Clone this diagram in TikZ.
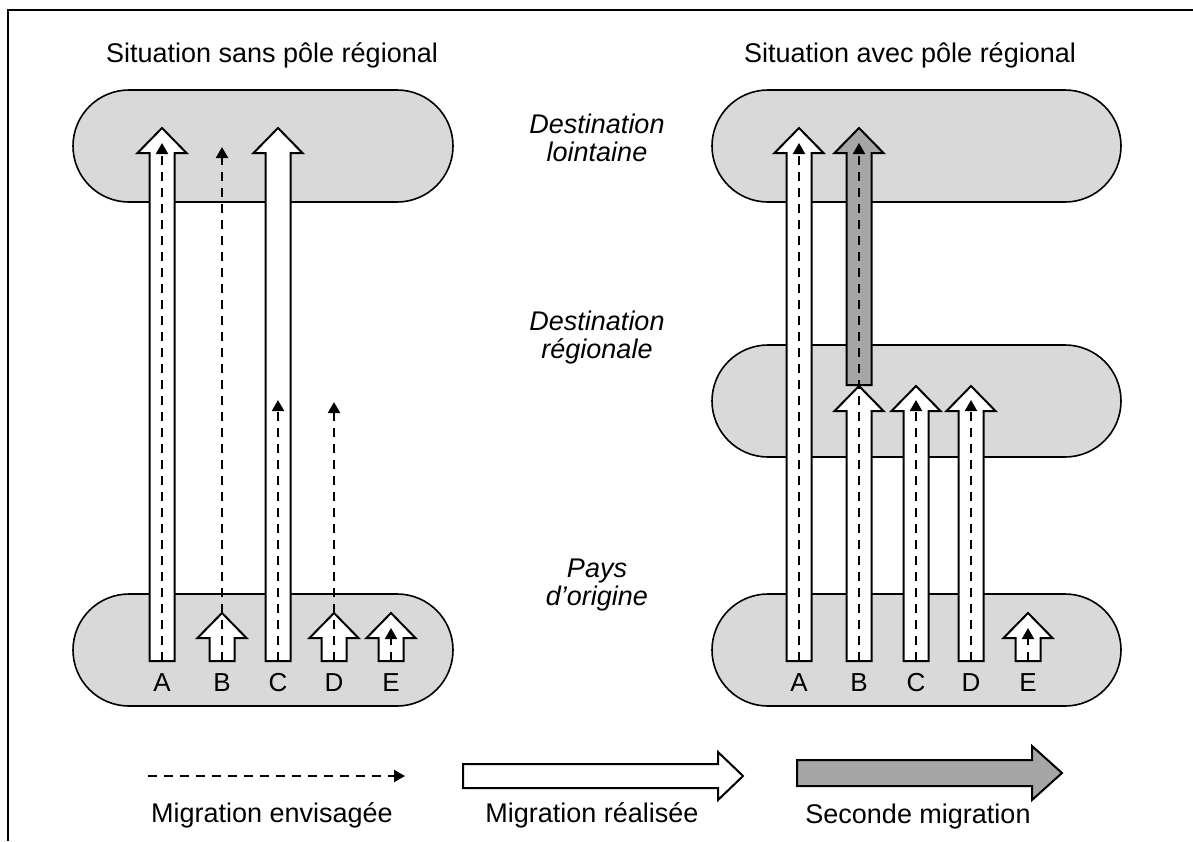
\documentclass[tikz,border=0pt]{standalone}
\usepackage{fontspec}
\setmainfont{Liberation Sans}
\usetikzlibrary{arrows.meta,positioning,calc}
\definecolor{zonegray}{RGB}{217,217,217}
\definecolor{secondgray}{RGB}{166,166,166}
\tikzstyle{zone} = [draw, fill=zonegray, line width=1.6pt, rounded corners=56pt]
\tikzstyle{shaft} = [draw, line width=2pt]
\tikzstyle{plan} = [-{Triangle[width=12pt,length=11pt]}, line width=2pt,
    dash pattern=on 9pt off 7pt]
\tikzstyle{lbl} = [font=\fontsize{27}{29}\selectfont, inner sep=0pt]
\tikzstyle{letter} = [font=\fontsize{26}{28}\selectfont, inner sep=0pt]
\tikzstyle{place} = [font=\fontsize{27}{28}\selectfont\itshape, align=center, inner sep=0pt]

% block arrow pointing up: fill, base, tip
\newcommand{\blockup}[3]{%
  \filldraw[fill=#1, shaft] ($(#2)+(-12.5,0)$) -- ($(#3)+(-12.5,25)$)
    -- ($(#3)+(-24.5,25)$) -- (#3) -- ($(#3)+(24.5,25)$)
    -- ($(#3)+(12.5,25)$) -- ($(#2)+(12.5,0)$) -- cycle;}
% block arrow pointing right: fill, base, tip, half shaft, half head, head length
\newcommand{\blockright}[6]{%
  \filldraw[fill=#1, shaft] ($(#2)+(0,-#4)$) -- ($(#3)+(-#6,-#4)$)
    -- ($(#3)+(-#6,-#5)$) -- (#3) -- ($(#3)+(-#6,#5)$)
    -- ($(#3)+(-#6,#4)$) -- ($(#2)+(0,#4)$) -- cycle;}

\begin{document}
\begin{tikzpicture}[x=1pt,y=-1pt]
  \useasboundingbox (0,0) rectangle (1193,841);
  \draw[line width=2.6pt] (8,841) -- (8,10) -- (1193,10);

  % titles
  \node[lbl] (tsans) at (272,55) {Situation sans pôle régional};
  \node[lbl] (tavec) at (910,55) {Situation avec pôle régional};

  % zones
  \draw[zone] (73,90) rectangle (453,202);
  \draw[zone] (73,594) rectangle (453,706);
  \draw[zone] (712,90) rectangle (1121,202);
  \draw[zone] (712,345) rectangle (1121,457);
  \draw[zone] (712,594) rectangle (1121,706);

  \node[place] (far) at (597,138) {Destination\\lointaine};
  \node[place] (reg) at (597,338) {Destination\\régionale};
  \node[place] (home) at (597,585) {Pays\\d’origine};

  % migrants
  \foreach \n/\x in {A/162,B/222,C/278,D/334,E/391}{
    \coordinate (l\n) at (\x,661);
    \node[letter] (ll\n) at (\x,683) {\n};}
  \foreach \n/\x in {A/799,B/859,C/916,D/971,E/1028}{
    \coordinate (r\n) at (\x,661);
    \node[letter] (rl\n) at (\x,683) {\n};}

  % without regional hub
  \coordinate (lAt) at (162,128);
  \coordinate (lBt) at (222,613);
  \coordinate (lCt) at (278,128);
  \coordinate (lDt) at (334,613);
  \coordinate (lEt) at (391,613);
  \foreach \n in {A,B,C,D,E}
    \blockup{white}{l\n}{l\n t};
  \draw[plan] (lA) -- (162,143);
  \draw[plan] (lB) -- (222,147);
  \draw[plan] (lC) -- (278,400);
  \draw[plan] (lD) -- (334,402);
  \draw[plan] (lE) -- (391,628);

  % with regional hub
  \coordinate (rAt) at (799,128);
  \coordinate (rBt) at (859,386);
  \coordinate (rCt) at (916,386);
  \coordinate (rDt) at (971,386);
  \coordinate (rEt) at (1028,613);
  \coordinate (hub) at (859,385);
  \coordinate (hubt) at (859,128);
  \blockup{secondgray}{hub}{hubt}
  \foreach \n in {A,B,C,D,E}
    \blockup{white}{r\n}{r\n t};
  \draw[plan] (rA) -- (799,143);
  \draw[plan] (rB) -- (859,143);
  \draw[plan] (rC) -- (916,400);
  \draw[plan] (rD) -- (971,400);
  \draw[plan] (rE) -- (1028,628);

  % legend
  \coordinate (k1) at (148,776);
  \coordinate (k1t) at (405,776);
  \coordinate (k2) at (463,776);
  \coordinate (k2t) at (743,776);
  \coordinate (k3) at (797,773);
  \coordinate (k3t) at (1062,773);
  \draw[plan] (k1) -- (k1t);
  \blockright{white}{k2}{k2t}{12}{24}{25}
  \blockright{secondgray}{k3}{k3t}{13}{27}{30}
  \node[lbl] (k1l) at (272,815) {Migration envisagée};
  \node[lbl] (k2l) at (592,815) {Migration réalisée};
  \node[lbl] (k3l) at (918,817) {Seconde migration};
\end{tikzpicture}
\end{document}
